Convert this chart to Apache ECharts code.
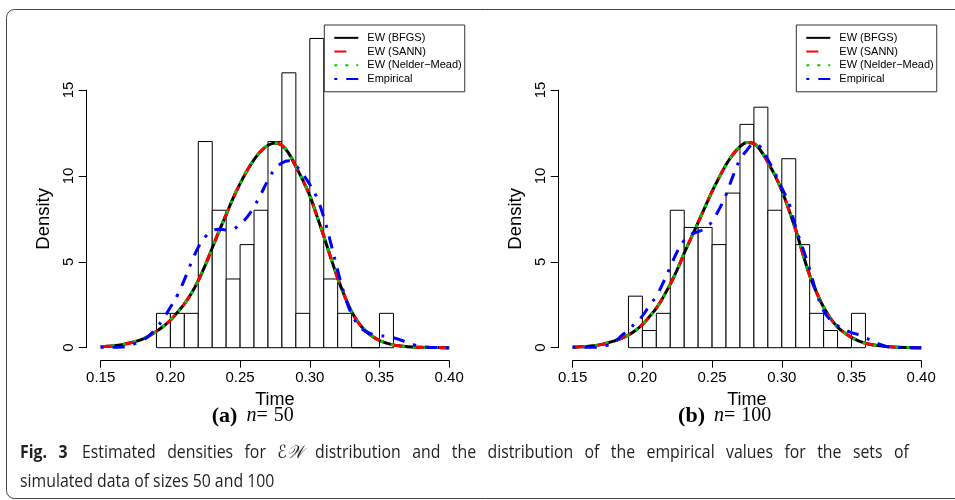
<!DOCTYPE html>
<html><head><meta charset="utf-8">
<script src="https://cdn.jsdelivr.net/npm/echarts@6/dist/echarts.min.js"></script>
<style>html,body{margin:0;padding:0;background:#fff}#c{width:955px;height:500px}</style>
</head><body><div id="c"></div>
<script>
// ---- data ----
const binEdges = [0.19,0.20,0.21,0.22,0.23,0.24,0.25,0.26,0.27,0.28,0.29,0.30,0.31,0.32,0.33,0.34,0.35,0.36];
const densA = [2,2,2,12,8,4,6,8,12,16,2,18,4,2,0,0,2];       // n = 50
const densB = [3,1,2,8,7,7,6,9,13,14,8,11,6,2,1,0,2];        // n = 100

const gridX = [0.150,0.155,0.160,0.165,0.170,0.175,0.180,0.185,0.190,0.195,0.200,0.205,0.210,0.215,0.220,0.225,0.230,0.235,0.240,0.245,0.250,0.255,0.260,0.265,0.270,0.275,0.280,0.285,0.290,0.295,0.300,0.305,0.310,0.315,0.320,0.325,0.330,0.335,0.340,0.345,0.350,0.355,0.360,0.365,0.370,0.375,0.380,0.385,0.390,0.395,0.400];
// fitted EW densities (BFGS, SANN and Nelder-Mead coincide in the picture)
const bfgsA = [0.05,0.08,0.12,0.18,0.26,0.36,0.5,0.7,0.95,1.25,1.6,2.05,2.55,3.15,3.9,4.8,5.8,6.8,7.75,8.7,9.55,10.3,10.95,11.45,11.78,11.92,11.78,11.3,10.55,9.75,8.85,7.7,6.5,5.25,4.05,3.0,2.1,1.45,0.98,0.65,0.42,0.27,0.16,0.1,0.06,0.03,0.02,0.01,0.01,0.0,0.0];
const sannA = [0.05,0.08,0.12,0.18,0.26,0.36,0.5,0.7,0.95,1.25,1.6,2.05,2.55,3.15,3.9,4.8,5.8,6.8,7.75,8.7,9.55,10.3,10.95,11.45,11.78,11.92,11.78,11.3,10.55,9.75,8.85,7.7,6.5,5.25,4.05,3.0,2.1,1.45,0.98,0.65,0.42,0.27,0.16,0.1,0.06,0.03,0.02,0.01,0.01,0.0,0.0];
const nmA   = [0.05,0.08,0.12,0.18,0.26,0.36,0.5,0.7,0.95,1.25,1.6,2.05,2.55,3.15,3.9,4.8,5.8,6.8,7.75,8.7,9.55,10.3,10.95,11.45,11.78,11.92,11.78,11.3,10.55,9.75,8.85,7.7,6.5,5.25,4.05,3.0,2.1,1.45,0.98,0.65,0.42,0.27,0.16,0.1,0.06,0.03,0.02,0.01,0.01,0.0,0.0];
const bfgsB = [0.03,0.05,0.07,0.11,0.18,0.27,0.4,0.55,0.74,1.0,1.35,1.8,2.3,2.95,3.7,4.55,5.5,6.4,7.3,8.2,9.1,9.9,10.65,11.25,11.7,11.95,11.88,11.45,10.8,10.05,9.15,8.05,6.85,5.5,4.2,3.2,2.35,1.7,1.2,0.87,0.6,0.4,0.26,0.17,0.11,0.07,0.04,0.02,0.01,0.0,0.0];
const sannB = [0.03,0.05,0.07,0.11,0.18,0.27,0.4,0.55,0.74,1.0,1.35,1.8,2.3,2.95,3.7,4.55,5.5,6.4,7.3,8.2,9.1,9.9,10.65,11.25,11.7,11.95,11.88,11.45,10.8,10.05,9.15,8.05,6.85,5.5,4.2,3.2,2.35,1.7,1.2,0.87,0.6,0.4,0.26,0.17,0.11,0.07,0.04,0.02,0.01,0.0,0.0];
const nmB   = [0.03,0.05,0.07,0.11,0.18,0.27,0.4,0.55,0.74,1.0,1.35,1.8,2.3,2.95,3.7,4.55,5.5,6.4,7.3,8.2,9.1,9.9,10.65,11.25,11.7,11.95,11.88,11.45,10.8,10.05,9.15,8.05,6.85,5.5,4.2,3.2,2.35,1.7,1.2,0.87,0.6,0.4,0.26,0.17,0.11,0.07,0.04,0.02,0.01,0.0,0.0];
// empirical (kernel) densities
const empA = [0.03,0.02,0.02,0.04,0.1,0.25,0.42,0.72,1.15,1.7,2.35,3.05,3.95,4.95,5.85,6.45,6.8,6.9,6.85,6.9,7.2,7.6,8.2,8.95,9.75,10.4,10.75,10.88,10.6,10.1,9.5,8.75,7.6,6.1,4.5,3.05,1.95,1.3,0.95,0.78,0.7,0.66,0.58,0.45,0.3,0.16,0.07,0.03,0.01,0.0,0.0];
const empB = [0.03,0.02,0.02,0.02,0.05,0.15,0.33,0.7,1.02,1.45,1.85,2.45,3.0,3.8,4.7,5.6,6.25,6.6,6.75,6.95,7.35,8.05,8.9,10.0,10.95,11.5,11.88,11.65,10.95,10.2,9.3,8.45,7.0,5.8,4.55,3.16,2.15,1.6,1.28,1.05,0.88,0.75,0.57,0.4,0.2,0.07,0.03,0.01,0.0,0.0,0.0];

const seriesNames = ['EW (BFGS)','EW (SANN)','EW (Nelder\u2212Mead)','Empirical'];
const xRange = [0.15, 0.40], xStep = 0.05;
const yRange = [0, 15], yStep = 5;
const subCaptions = [['(a)','50'],['(b)','100']];
const captionBold = ['Fig.', '3'];
const captionWords = ['Estimated','densities','for','\u2130\uD835\uDCB2','distribution','and','the','distribution','of','the','empirical','values','for','the','sets','of'];
const captionLine2 = 'simulated data of sizes 50 and 100';

// ---- build ----
const chart = echarts.init(document.getElementById('c'), null, {renderer:'canvas'});
const sans = 'Liberation Sans, Arial, Helvetica, sans-serif';
const serif = 'Liberation Serif, DejaVu Serif, serif';
const capFont = 'Open Sans, Noto Sans, sans-serif';
const gridLefts = [100.7, 572.7];
const styles = [
  {color:'#000000', type:'solid'},
  {color:'#ff0000', type:[12,12]},
  {color:'#00cd00', type:[3,8]},
  {color:'#0000ff', type:[3,9,12,9]}
];

function pairs(xs, ys){ return xs.map((x,i)=>[x, ys[i]]); }
function histData(d){ return d.map((v,i)=>[binEdges[i], binEdges[i+1], v]); }

const grids = [], xAxes = [], yAxes = [], series = [], legends = [];
const panels = [
  {hist: densA, curves:[bfgsA,sannA,nmA], emp: empA},
  {hist: densB, curves:[bfgsB,sannB,nmB], emp: empB}
];
panels.forEach((p, k) => {
  grids.push({left: gridLefts[k], top: 90, width: 348.5, height: 257.7, containLabel:false});
  xAxes.push({
    gridIndex:k, type:'value', min:xRange[0], max:xRange[1], interval:xStep, offset:13,
    name:'Time', nameLocation:'middle', nameGap:25,
    nameTextStyle:{fontFamily:sans, fontSize:18, color:'#000'},
    axisLine:{show:true, onZero:false, lineStyle:{color:'#000', width:1}},
    axisTick:{show:true, length:7, lineStyle:{color:'#000', width:1}},
    axisLabel:{show:true, margin:10, fontFamily:sans, fontSize:15, color:'#000', formatter:v=>v.toFixed(2)},
    splitLine:{show:false}
  });
  yAxes.push({
    gridIndex:k, type:'value', min:yRange[0], max:yRange[1], interval:yStep, offset:14,
    name:'Density', nameLocation:'middle', nameGap:33, nameRotate:90,
    nameTextStyle:{fontFamily:sans, fontSize:18.5, color:'#000'},
    axisLine:{show:true, lineStyle:{color:'#000', width:1}},
    axisTick:{show:true, length:8, lineStyle:{color:'#000', width:1}},
    axisLabel:{show:true, rotate:90, margin:10, fontFamily:sans, fontSize:15, color:'#000'},
    splitLine:{show:false}
  });
  series.push({
    type:'custom', xAxisIndex:k, yAxisIndex:k, silent:true, clip:false,
    data: histData(p.hist),
    encode:{x:[0,1], y:2},
    renderItem:(params, api)=>{
      const p0 = api.coord([api.value(0), 0]);
      const p1 = api.coord([api.value(1), api.value(2)]);
      return {type:'rect', shape:{x:p0[0], y:p1[1], width:p1[0]-p0[0], height:p0[1]-p1[1]},
              style:{fill:'#ffffff', stroke:'#000000', lineWidth:1}};
    },
    z:1
  });
  p.curves.forEach((c, j) => {
    series.push({
      type:'line', name:seriesNames[j], xAxisIndex:k, yAxisIndex:k,
      data: pairs(gridX, c), showSymbol:false, symbol:'none', smooth:0.4,
      clip:false, silent:true,
      lineStyle:{color:styles[j].color, width:3, type:styles[j].type, cap:'butt'},
      itemStyle:{color:styles[j].color}, z:2+j
    });
  });
  series.push({
    type:'line', name:seriesNames[3], xAxisIndex:k, yAxisIndex:k,
    data: pairs(gridX, p.emp), showSymbol:false, symbol:'none', smooth:0.4,
    clip:false, silent:true,
    lineStyle:{color:styles[3].color, width:3, type:styles[3].type, cap:'butt'},
    itemStyle:{color:styles[3].color}, z:6
  });
  legends.push({
    left: gridLefts[k] + 223.6, top: 25, orient:'vertical', selectedMode:false,
    itemWidth:24, itemHeight:10, itemGap:0,
    padding:[6,3,6,9], borderColor:'#333', borderWidth:1, backgroundColor:'#fff',
    itemStyle:{color:'rgba(0,0,0,0)', borderColor:'rgba(0,0,0,0)', borderWidth:0},
    textStyle:{fontFamily:sans, fontSize:11, lineHeight:13.7, color:'#000', padding:[0,0,0,4]},
    data: seriesNames,
    z:10
  });
});

const graphics = [
  {type:'rect', shape:{x:6.5, y:9.5, width:1000, height:489, r:8}, style:{fill:'none', stroke:'#444', lineWidth:1}, silent:true, z:-1}
];
subCaptions.forEach((s, k) => {
  graphics.push({
    type:'text', x: gridLefts[k] + 152, y: 416,
    style:{
      text:'{b|' + s[0] + '}{s1| }{i|n}{r|=}{s2| }{r|' + s[1] + '}',
      align:'center', verticalAlign:'middle',
      rich:{
        b:{fontFamily:serif, fontWeight:'bold', fontSize:22, fill:'#000'},
        i:{fontFamily:serif, fontStyle:'italic', fontSize:20, fill:'#000'},
        r:{fontFamily:serif, fontSize:20, fill:'#000'},
        s1:{width:9, fontSize:20},
        s2:{width:6, fontSize:20}
      }
    }
  });
});
// justified first caption line: inter-word spaces are fixed-width rich tokens
const line1 = '{b|' + captionBold[0] + '}{sp| }{b|' + captionBold[1] + '}{sp2| }' +
  captionWords.map(w => w.charCodeAt(0) === 0x2130 ? '{e|' + w + '}' : w).join('{sp| }');
graphics.push({
  type:'text', x:20, y:453, scaleX:0.88,
  style:{
    text: line1,
    verticalAlign:'middle', fontFamily:capFont, fontSize:18, fill:'#231f20',
    rich:{
      b:{fontFamily:capFont, fontWeight:'bold', fontSize:18, fill:'#231f20'},
      e:{fontFamily:'DejaVu Serif, DejaVu Sans, serif', fontStyle:'italic', fontSize:18, fill:'#231f20'},
      sp:{width:13, fontSize:18},
      sp2:{width:16.5, fontSize:18}
    }
  }
});
graphics.push({
  type:'text', x:20, y:482, scaleX:0.88,
  style:{text:captionLine2, verticalAlign:'middle', fontFamily:capFont, fontSize:18, fill:'#231f20'}
});

chart.setOption({
  backgroundColor:'#ffffff',
  animation:false,
  grid: grids, xAxis: xAxes, yAxis: yAxes, legend: legends,
  series: series, graphic: graphics
});
</script></body></html>
